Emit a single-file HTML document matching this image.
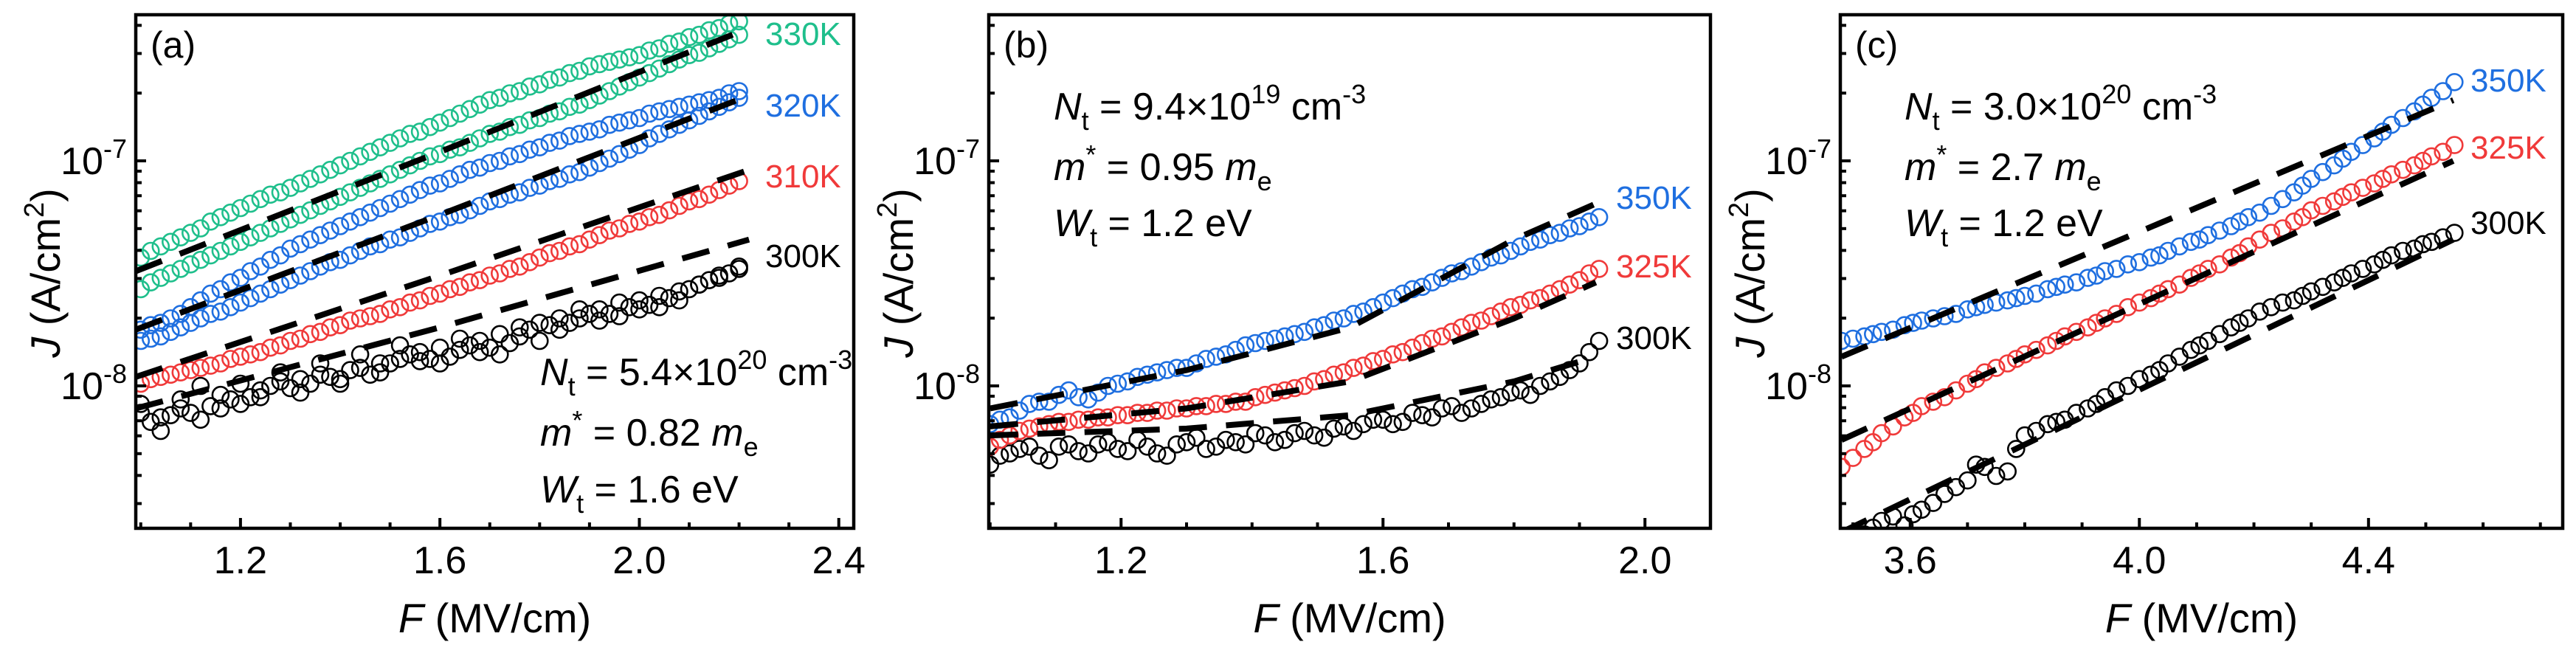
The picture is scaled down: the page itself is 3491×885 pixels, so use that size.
<!DOCTYPE html>
<html><head><meta charset="utf-8"><style>
html,body{margin:0;padding:0;background:#fff;}
svg{display:block;font-family:"Liberation Sans",Arial,sans-serif;}
</style></head><body>
<svg id="fig" width="3491" height="885" viewBox="0 0 3491 885" xmlns="http://www.w3.org/2000/svg"></svg>
<script>
// ---------- Panel (a) data ----------
const aF = [1.00,1.04,1.08,1.12,1.16,1.20,1.24,1.28,1.32,1.36,1.40,1.44,1.48,1.52,1.56,1.60,1.64,1.68,1.72,1.76,1.80,1.84,1.88,1.92,1.96,2.00,2.04,2.08,2.12,2.16,2.20];
const aFm = [1.02,1.06,1.10,1.14,1.18,1.22,1.26,1.30,1.34,1.38,1.42,1.46,1.50,1.54,1.58,1.62,1.66,1.70,1.74,1.78,1.82,1.86,1.90,1.94,1.98,2.02,2.06,2.10,2.14,2.18];
const a330up = [-7.43,-7.38,-7.34,-7.30,-7.25,-7.21,-7.17,-7.14,-7.10,-7.06,-7.02,-6.98,-6.94,-6.90,-6.87,-6.83,-6.79,-6.75,-6.72,-6.69,-6.66,-6.63,-6.60,-6.57,-6.55,-6.53,-6.50,-6.47,-6.44,-6.41,-6.38];
const a330upM = [-7.40,-7.36,-7.32,-7.27,-7.23,-7.19,-7.15,-7.12,-7.08,-7.04,-7.00,-6.96,-6.92,-6.88,-6.85,-6.81,-6.77,-6.73,-6.70,-6.67,-6.64,-6.61,-6.58,-6.56,-6.54,-6.51,-6.48,-6.45,-6.42,-6.39];
const a330dn = [-7.57,-7.52,-7.48,-7.44,-7.40,-7.36,-7.32,-7.28,-7.24,-7.20,-7.16,-7.12,-7.08,-7.04,-7.00,-6.97,-6.94,-6.90,-6.87,-6.84,-6.81,-6.78,-6.75,-6.71,-6.67,-6.63,-6.59,-6.55,-6.52,-6.48,-6.44];
const a330dnM = [-7.54,-7.50,-7.46,-7.42,-7.38,-7.34,-7.30,-7.26,-7.22,-7.18,-7.14,-7.10,-7.06,-7.02,-6.98,-6.95,-6.92,-6.88,-6.85,-6.82,-6.79,-6.76,-6.73,-6.69,-6.65,-6.61,-6.57,-6.53,-6.50,-6.46];
const a320up = [-7.75,-7.72,-7.68,-7.62,-7.57,-7.52,-7.47,-7.42,-7.37,-7.33,-7.29,-7.25,-7.21,-7.17,-7.13,-7.10,-7.06,-7.03,-7.00,-6.97,-6.94,-6.91,-6.88,-6.86,-6.83,-6.81,-6.78,-6.76,-6.74,-6.72,-6.69];
const a320upM = [-7.73,-7.70,-7.65,-7.59,-7.54,-7.49,-7.44,-7.39,-7.35,-7.31,-7.27,-7.23,-7.19,-7.15,-7.11,-7.08,-7.04,-7.01,-6.98,-6.95,-6.92,-6.89,-6.87,-6.84,-6.82,-6.79,-6.77,-6.75,-6.73,-6.70];
const a320dn = [-7.80,-7.78,-7.74,-7.70,-7.67,-7.63,-7.59,-7.55,-7.51,-7.47,-7.44,-7.40,-7.37,-7.34,-7.30,-7.27,-7.24,-7.20,-7.17,-7.14,-7.11,-7.08,-7.05,-7.01,-6.97,-6.93,-6.88,-6.84,-6.80,-6.76,-6.72];
const a320dnM = [-7.79,-7.76,-7.72,-7.68,-7.65,-7.61,-7.57,-7.53,-7.49,-7.45,-7.42,-7.38,-7.35,-7.32,-7.28,-7.25,-7.22,-7.18,-7.15,-7.12,-7.09,-7.06,-7.03,-6.99,-6.95,-6.90,-6.86,-6.82,-6.78,-6.74];
const a310 = [-7.99,-7.96,-7.94,-7.92,-7.90,-7.87,-7.85,-7.82,-7.79,-7.76,-7.73,-7.70,-7.68,-7.65,-7.62,-7.59,-7.56,-7.53,-7.50,-7.47,-7.43,-7.40,-7.37,-7.33,-7.30,-7.27,-7.24,-7.20,-7.17,-7.13,-7.09];
const a310M = [-7.97,-7.95,-7.93,-7.91,-7.88,-7.86,-7.83,-7.80,-7.77,-7.74,-7.71,-7.69,-7.66,-7.63,-7.60,-7.57,-7.54,-7.51,-7.48,-7.45,-7.41,-7.38,-7.35,-7.31,-7.28,-7.25,-7.22,-7.18,-7.15,-7.11];
const a300a = [-8.12,-8.20,-8.10,-8.15,-8.04,-8.08,-8.02,-7.98,-8.03,-7.95,-7.97,-7.92,-7.94,-7.88,-7.85,-7.90,-7.84,-7.80,-7.86,-7.78,-7.72,-7.75,-7.70,-7.66,-7.69,-7.62,-7.65,-7.58,-7.55,-7.52,-7.48];
const a300b = [-8.08,-8.14,-8.06,-8.00,-8.10,-7.99,-8.05,-7.94,-7.97,-7.90,-7.99,-7.86,-7.90,-7.82,-7.89,-7.83,-7.79,-7.85,-7.77,-7.74,-7.80,-7.70,-7.66,-7.71,-7.63,-7.66,-7.60,-7.62,-7.55,-7.51,-7.47];
const a300M = [-8.16,-8.13,-8.12,-8.09,-8.06,-8.05,-8.00,-8.01,-7.99,-7.96,-7.93,-7.95,-7.90,-7.86,-7.88,-7.87,-7.82,-7.83,-7.81,-7.75,-7.73,-7.72,-7.68,-7.68,-7.65,-7.64,-7.61,-7.57,-7.53,-7.50];
const aFitF = [0.99,1.60,2.22];
const aFit330 = [-7.49,-6.96,-6.41];
const aFit320 = [-7.75,-7.24,-6.71];
const aFit310 = [-7.96,-7.51,-7.04];
const aFit300 = [-8.10,-7.74,-7.35];
const aXTicks = [1.2,1.6,2.0,2.4];
const aXTickLabels = ["1.2","1.6","2.0","2.4"];

// ---------- Panel (b) data ----------
const bF = [1.00,1.03,1.06,1.09,1.12,1.15,1.18,1.21,1.24,1.27,1.30,1.33,1.36,1.39,1.42,1.45,1.48,1.51,1.54,1.57,1.60,1.63,1.66,1.69,1.72,1.75,1.78,1.81,1.84,1.87,1.90,1.93];
const bFm = [1.015,1.045,1.075,1.105,1.135,1.165,1.195,1.225,1.255,1.285,1.315,1.345,1.375,1.405,1.435,1.465,1.495,1.525,1.555,1.585,1.615,1.645,1.675,1.705,1.735,1.765,1.795,1.825,1.855,1.885,1.915];
const b350 = [-8.17,-8.14,-8.08,-8.07,-8.02,-8.06,-8.00,-7.98,-7.95,-7.93,-7.92,-7.88,-7.86,-7.82,-7.80,-7.78,-7.76,-7.73,-7.70,-7.67,-7.63,-7.59,-7.56,-7.52,-7.49,-7.45,-7.42,-7.38,-7.35,-7.32,-7.29,-7.25];
const b350M = [-8.15,-8.11,-8.07,-8.04,-8.05,-8.03,-7.99,-7.96,-7.94,-7.92,-7.90,-7.87,-7.84,-7.81,-7.79,-7.77,-7.74,-7.71,-7.68,-7.65,-7.61,-7.57,-7.54,-7.50,-7.47,-7.43,-7.40,-7.36,-7.33,-7.30,-7.27];
const b325 = [-8.27,-8.22,-8.19,-8.17,-8.16,-8.15,-8.14,-8.13,-8.12,-8.11,-8.10,-8.09,-8.08,-8.07,-8.04,-8.02,-8.00,-7.97,-7.94,-7.91,-7.88,-7.85,-7.81,-7.78,-7.74,-7.71,-7.67,-7.64,-7.61,-7.57,-7.53,-7.48];
const b325M = [-8.24,-8.20,-8.18,-8.16,-8.15,-8.14,-8.13,-8.12,-8.11,-8.10,-8.09,-8.08,-8.07,-8.05,-8.03,-8.01,-7.98,-7.95,-7.92,-7.89,-7.86,-7.83,-7.79,-7.76,-7.72,-7.69,-7.65,-7.62,-7.59,-7.55,-7.50];
const b300 = [-8.35,-8.30,-8.27,-8.33,-8.26,-8.30,-8.25,-8.29,-8.27,-8.31,-8.25,-8.28,-8.24,-8.26,-8.22,-8.24,-8.20,-8.23,-8.18,-8.17,-8.15,-8.16,-8.13,-8.10,-8.12,-8.08,-8.05,-8.02,-8.00,-7.96,-7.90,-7.80];
const b300M = [-8.31,-8.28,-8.31,-8.27,-8.29,-8.26,-8.28,-8.24,-8.30,-8.26,-8.23,-8.27,-8.25,-8.21,-8.25,-8.21,-8.22,-8.19,-8.20,-8.15,-8.17,-8.12,-8.14,-8.09,-8.10,-8.06,-8.03,-8.04,-7.98,-7.93,-7.85];
const bFitF = [1.00,1.30,1.55,1.80,1.925];
const bFit350 = [-8.10,-7.93,-7.74,-7.35,-7.19];
const bFit325 = [-8.18,-8.10,-7.98,-7.70,-7.54];
const bFit300 = [-8.22,-8.19,-8.13,-7.98,-7.87];
const bXTicks = [1.2,1.6,2.0];
const bXTickLabels = ["1.2","1.6","2.0"];

// ---------- Panel (c) data ----------
const cF = [3.48,3.52,3.55,3.59,3.62,3.66,3.70,3.73,3.77,3.80,3.84,3.87,3.91,3.94,3.98,4.02,4.05,4.09,4.12,4.16,4.19,4.23,4.27,4.30,4.34,4.37,4.41,4.44,4.48,4.51,4.55];
const cFm = [3.50,3.535,3.57,3.605,3.64,3.68,3.715,3.75,3.785,3.82,3.855,3.89,3.925,3.96,4.00,4.035,4.07,4.105,4.14,4.175,4.21,4.25,4.285,4.32,4.355,4.39,4.425,4.46,4.495,4.53];
const c350 = [-7.80,-7.78,-7.76,-7.73,-7.71,-7.69,-7.66,-7.64,-7.62,-7.60,-7.57,-7.55,-7.52,-7.49,-7.46,-7.43,-7.40,-7.36,-7.33,-7.29,-7.25,-7.20,-7.14,-7.08,-7.02,-6.96,-6.90,-6.84,-6.78,-6.72,-6.65];
const c350M = [-7.79,-7.77,-7.75,-7.72,-7.70,-7.68,-7.65,-7.63,-7.61,-7.59,-7.56,-7.54,-7.51,-7.48,-7.45,-7.42,-7.38,-7.35,-7.31,-7.27,-7.23,-7.17,-7.11,-7.05,-6.99,-6.93,-6.87,-6.81,-6.75,-6.69];
const c325 = [-8.36,-8.28,-8.21,-8.14,-8.09,-8.05,-7.99,-7.94,-7.90,-7.86,-7.82,-7.78,-7.74,-7.70,-7.65,-7.61,-7.57,-7.52,-7.48,-7.43,-7.38,-7.32,-7.27,-7.22,-7.18,-7.14,-7.10,-7.06,-7.02,-6.98,-6.93];
const c325M = [-8.32,-8.25,-8.18,-8.12,-8.07,-8.02,-7.97,-7.92,-7.88,-7.84,-7.80,-7.76,-7.72,-7.68,-7.63,-7.59,-7.55,-7.50,-7.46,-7.41,-7.35,-7.30,-7.25,-7.20,-7.16,-7.12,-7.08,-7.04,-7.00,-6.96];
const c300 = [-8.75,-8.66,-8.60,-8.62,-8.55,-8.48,-8.42,-8.36,-8.38,-8.22,-8.17,-8.15,-8.10,-8.05,-8.00,-7.95,-7.90,-7.84,-7.80,-7.74,-7.70,-7.65,-7.62,-7.58,-7.54,-7.50,-7.46,-7.42,-7.39,-7.36,-7.32];
const c300M = [-8.70,-8.63,-8.58,-8.57,-8.52,-8.45,-8.35,-8.40,-8.28,-8.20,-8.16,-8.12,-8.08,-8.02,-7.97,-7.93,-7.87,-7.82,-7.77,-7.72,-7.67,-7.63,-7.60,-7.56,-7.52,-7.48,-7.44,-7.40,-7.37,-7.34];
const cFitF = [3.48,4.548];
const cFit350 = [-7.87,-6.73];
const cFit325 = [-8.24,-7.00];
const cFit300 = [-8.65,-7.35];
const cXTicks = [3.6,4.0,4.4];
const cXTickLabels = ["3.6","4.0","4.4"];

const yTickExps = [-7,-8];
const yTickLabels = ["-7","-8"];

const NS = "http://www.w3.org/2000/svg";
const svg = document.getElementById('fig');
function mk(tag, attrs, parent){
  const e = document.createElementNS(NS, tag);
  for (const k in attrs) e.setAttribute(k, attrs[k]);
  (parent||svg).appendChild(e);
  return e;
}
const GREEN="#1fbf8c", BLUE="#1f6fe0", RED="#f03a3a", BLACK="#000";
const Y0 = 20, Y1 = 716;
function yS(l){ return 218 + (-7 - l) * 305; }
const LMIN = -7 - (716-218)/305, LMAX = -7 + (218-20)/305;

function panel(id, x0, x1, fmin, fmax, xticks, xlabels, minorStep, series, fits, labels, ann, letter){
  const g = mk('g', {});
  
  
  const xS = f => x0 + (f - fmin) / (fmax - fmin) * (x1 - x0);
  const clipId = 'clip' + id;
  const cp = mk('clipPath', {id: clipId}, g);
  mk('rect', {x: x0, y: Y0, width: x1-x0, height: Y1-Y0}, cp);
  const plot = mk('g', {'clip-path': 'url(#' + clipId + ')'}, g);
  series.forEach(s => {
    const sg = mk('g', {}, plot);
    
    
    s.v.forEach((l, i) => {
      const c = mk('circle', {cx: xS(s.f[i]).toFixed(1), cy: yS(l).toFixed(1), r: 11, fill: 'none', stroke: s.c, 'stroke-width': 2.6}, sg);
      
      
    });
  });
  fits.forEach(ft => {
    const pts = ft.v.map((l, i) => xS(ft.f[i]).toFixed(1) + ',' + yS(l).toFixed(1)).join(' ');
    const pl = mk('polyline', {points: pts, fill: 'none', stroke: '#000', 'stroke-width': 8, 'stroke-dasharray': '38 26'}, plot);
    
    
  });
  const fr = mk('rect', {x: x0, y: Y0, width: x1-x0, height: Y1-Y0, fill: 'none', stroke: '#000', 'stroke-width': 4.5}, g);
  
  
  const fs = Math.ceil(fmin / minorStep - 1e-6);
  for (let k = fs; k * minorStep <= fmax + 1e-9; k++){
    const f = k * minorStep, x = xS(f);
    const major = xticks.some(t => Math.abs(t - f) < 1e-6);
    mk('line', {x1: x, x2: x, y1: Y1, y2: Y1 - (major ? 14 : 8), stroke: '#000', 'stroke-width': 4}, g);
  }
  xticks.forEach((t, i) => {
    const tx = mk('text', {x: xS(t), y: 777, 'font-size': 52, 'text-anchor': 'middle'}, g);
    tx.textContent = xlabels[i];
    
    
  });
  for (let d = -9; d <= -6; d++){
    for (let m = 1; m <= 9; m++){
      const l = d + Math.log10(m);
      if (l < LMIN || l > LMAX) continue;
      const y = yS(l);
      mk('line', {x1: x0, x2: x0 + (m === 1 ? 14 : 8), y1: y, y2: y, stroke: '#000', 'stroke-width': 4}, g);
    }
  }
  yTickExps.forEach((e, i) => {
    const tx = mk('text', {x: x0 - 12, y: yS(e) + 18, 'font-size': 52, 'text-anchor': 'end'}, g);
    
    
    const t1 = mk('tspan', {}, tx); t1.textContent = '10';
    const t2 = mk('tspan', {dy: -22, 'font-size': 36}, tx); t2.textContent = yTickLabels[i];
  });
  const xt = mk('text', {x: (x0 + x1) / 2, y: 857, 'font-size': 56, 'text-anchor': 'middle'}, g);
  
  
  xt.innerHTML = '<tspan font-style="italic">F</tspan> (MV/cm)';
  const yt = mk('text', {x: 0, y: 0, 'font-size': 56, 'text-anchor': 'middle', transform: 'translate(' + (x0 - 103) + ',370) rotate(-90)'}, g);
  
  
  yt.innerHTML = '<tspan font-style="italic">J</tspan> (A/cm<tspan dy="-22" font-size="38">2</tspan><tspan dy="22">)</tspan>';
  const pl = mk('text', {x: x0 + 20, y: 78, 'font-size': 50}, g);
  pl.textContent = letter;
  
  
  labels.forEach(L => {
    const t = mk('text', {x: L.x, y: L.y + 16, 'font-size': 44, fill: L.c}, g);
    t.textContent = L.t;
    
    
  });
  const an = mk('text', {x: ann.x, y: ann.y0, 'font-size': 52}, g);
  
  
  an.innerHTML = '<tspan font-style="italic">N</tspan><tspan dy="14" font-size="36">t</tspan><tspan dy="-14"> = ' + ann.nt + '×10</tspan><tspan dy="-22" font-size="36">' + ann.ne + '</tspan><tspan dy="22"> cm</tspan><tspan dy="-22" font-size="36">-3</tspan>';
  const am = mk('text', {x: ann.x, y: ann.y1, 'font-size': 52}, g);
  
  
  am.innerHTML = '<tspan font-style="italic">m</tspan><tspan dy="-22" font-size="36">*</tspan><tspan dy="22"> = ' + ann.m + ' </tspan><tspan font-style="italic">m</tspan><tspan dy="14" font-size="36">e</tspan>';
  const aw = mk('text', {x: ann.x, y: ann.y2, 'font-size': 52}, g);
  
  
  aw.innerHTML = '<tspan font-style="italic">W</tspan><tspan dy="14" font-size="36">t</tspan><tspan dy="-14"> = ' + ann.w + ' eV</tspan>';
}

panel('a', 184, 1157, 0.99, 2.43, aXTicks, aXTickLabels, 0.1,
  [{name:'300K-a', f:aF, v:a300a, c:BLACK},{name:'300K-b', f:aF, v:a300b, c:BLACK},{name:'300K-m', f:aFm, v:a300M, c:BLACK},
   {name:'310K', f:aF, v:a310, c:RED},{name:'310K-m', f:aFm, v:a310M, c:RED},
   {name:'320K-down', f:aF, v:a320dn, c:BLUE},{name:'320K-down-m', f:aFm, v:a320dnM, c:BLUE},
   {name:'320K-up', f:aF, v:a320up, c:BLUE},{name:'320K-up-m', f:aFm, v:a320upM, c:BLUE},
   {name:'330K-down', f:aF, v:a330dn, c:GREEN},{name:'330K-down-m', f:aFm, v:a330dnM, c:GREEN},
   {name:'330K-up', f:aF, v:a330up, c:GREEN},{name:'330K-up-m', f:aFm, v:a330upM, c:GREEN}],
  [{name:'330K', f:aFitF, v:aFit330},{name:'320K', f:aFitF, v:aFit320},{name:'310K', f:aFitF, v:aFit310},{name:'300K', f:aFitF, v:aFit300}],
  [{t:'330K', x:1037, y:45, c:GREEN},{t:'320K', x:1037, y:142, c:BLUE},{t:'310K', x:1037, y:238, c:RED},{t:'300K', x:1037, y:346, c:BLACK}],
  {x:732, y0:522, y1:604, y2:681, nt:'5.4', ne:'20', m:'0.82', w:'1.6'}, '(a)');

panel('b', 1340, 2318, 0.998, 2.10, bXTicks, bXTickLabels, 0.1,
  [{name:'300K', f:bF, v:b300, c:BLACK},{name:'300K-m', f:bFm, v:b300M, c:BLACK},
   {name:'325K', f:bF, v:b325, c:RED},{name:'325K-m', f:bFm, v:b325M, c:RED},
   {name:'350K', f:bF, v:b350, c:BLUE},{name:'350K-m', f:bFm, v:b350M, c:BLUE}],
  [{name:'350K', f:bFitF, v:bFit350},{name:'325K', f:bFitF, v:bFit325},{name:'300K', f:bFitF, v:bFit300}],
  [{t:'350K', x:2190, y:267, c:BLUE},{t:'325K', x:2190, y:360, c:RED},{t:'300K', x:2190, y:457, c:BLACK}],
  {x:1428, y0:162, y1:244, y2:320, nt:'9.4', ne:'19', m:'0.95', w:'1.2'}, '(b)');

panel('c', 2494, 3473, 3.478, 4.739, cXTicks, cXTickLabels, 0.1,
  [{name:'300K', f:cF, v:c300, c:BLACK},{name:'300K-m', f:cFm, v:c300M, c:BLACK},
   {name:'325K', f:cF, v:c325, c:RED},{name:'325K-m', f:cFm, v:c325M, c:RED},
   {name:'350K', f:cF, v:c350, c:BLUE},{name:'350K-m', f:cFm, v:c350M, c:BLUE}],
  [{name:'350K', f:cFitF, v:cFit350},{name:'325K', f:cFitF, v:cFit325},{name:'300K', f:cFitF, v:cFit300}],
  [{t:'350K', x:3348, y:108, c:BLUE},{t:'325K', x:3348, y:199, c:RED},{t:'300K', x:3348, y:301, c:BLACK}],
  {x:2581, y0:162, y1:244, y2:320, nt:'3.0', ne:'20', m:'2.7', w:'1.2'}, '(c)');
</script>
</body></html>
